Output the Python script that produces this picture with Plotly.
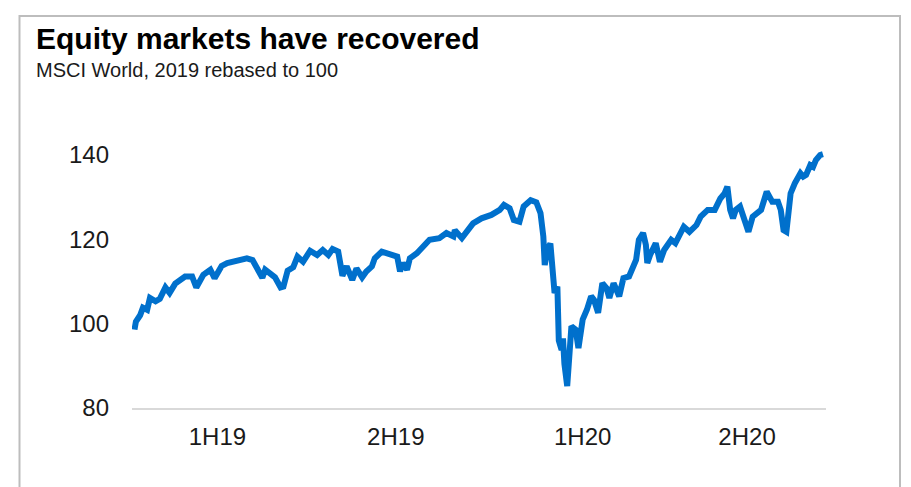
import plotly.graph_objects as go

# MSCI World index, 2019 rebased to 100, sampled by trading day
trading_day = [
    0, 1, 4, 6, 9, 11, 15, 18, 22, 25, 29, 32, 36, 41, 44, 49, 54, 57, 62, 66,
    70, 75, 80, 84, 87, 91, 93, 96, 100, 104, 106, 109, 113, 116, 120, 125, 130, 134, 138, 141,
    145, 148, 151, 155, 158, 162, 165, 169, 171, 176, 180, 187, 189, 191, 194, 196, 201, 205, 210, 217,
    222, 227, 228, 233, 237, 241, 247, 251, 254, 260, 263, 267, 270, 274, 277, 282, 286, 289, 291, 292,
    294, 296, 298, 299, 301, 302, 304, 305, 306, 308, 311, 314, 316, 319, 322, 325, 327, 330, 333, 336,
    338, 341, 345, 348, 352, 355, 357, 359, 362, 364, 365, 367, 371, 374, 377, 382, 385, 391, 395, 400,
    403, 408, 413, 417, 420, 422, 424, 426, 428, 431, 433, 437, 440, 444, 446, 450, 454, 458, 460, 462,
    464, 466, 467, 470, 474, 476, 478, 481, 483, 485, 488, 490,
]
msci_world = [
    98.6, 100.5, 102.0, 103.8, 103.3, 106.1, 105.3, 105.9, 108.6, 107.3, 109.5, 110.4, 111.2, 111.2, 108.6, 111.6, 112.8, 110.8, 113.7, 114.4,
    114.7, 115.1, 115.5, 115.1, 113.2, 110.9, 112.8, 112.0, 111.0, 108.6, 108.8, 112.6, 113.4, 115.9, 114.7, 117.3, 116.3, 117.5, 116.3, 117.7,
    117.1, 111.4, 113.6, 110.4, 113.1, 111.0, 112.4, 113.6, 115.5, 117.1, 116.7, 115.9, 112.4, 114.4, 112.8, 115.5, 116.7, 118.3, 119.9, 120.3,
    121.5, 120.7, 122.2, 120.3, 121.8, 123.8, 125.0, 125.4, 125.8, 127.0, 128.2, 127.4, 124.6, 124.2, 127.8, 129.3, 128.8, 126.2, 120.7, 113.9,
    117.8, 119.0, 112.8, 107.3, 108.8, 96.0, 93.8, 96.5, 90.5, 85.2, 99.4, 98.6, 94.2, 101.0, 103.3, 106.5, 105.7, 102.6, 109.6, 108.4,
    106.1, 109.6, 106.5, 110.8, 111.2, 114.0, 115.1, 119.9, 121.5, 118.7, 114.4, 116.3, 119.1, 114.7, 117.5, 119.9, 119.1, 123.0, 121.8, 123.4,
    125.4, 127.0, 127.0, 129.7, 130.9, 132.5, 127.0, 125.0, 127.0, 127.8, 125.4, 121.8, 125.4, 126.2, 127.0, 131.3, 128.9, 128.9, 127.0, 122.2,
    121.8, 127.8, 130.9, 133.3, 135.7, 134.9, 135.3, 137.6, 137.2, 138.8, 140.0, 140.2,
]

# Half-year labels along the x axis
half_year_pos = [59, 186, 319, 436]
half_year_labels = ["1H19", "2H19", "1H20", "2H20"]
y_ticks = [80, 100, 120, 140]

LINE_BLUE = "#0070CC"
TEXT = "#1a1a1a"
FONT = "Liberation Sans, Arial, Helvetica, sans-serif"

fig = go.Figure()
fig.add_trace(go.Scatter(
    x=trading_day,
    y=msci_world,
    mode="lines",
    line=dict(color=LINE_BLUE, width=6, shape="linear"),
    hoverinfo="skip",
    showlegend=False,
))

W, H = 911, 487
ML, MR, MT, MB = 132, 85, 134, 79
PW, PH = W - ML - MR, H - MT - MB


def px_x(p):
    return (p - ML) / PW


def px_y(p):
    return (H - MB - p) / PH


fig.update_layout(
    width=W,
    height=H,
    margin=dict(l=ML, r=MR, t=MT, b=MB, pad=0),
    paper_bgcolor="white",
    plot_bgcolor="white",
    font=dict(family=FONT, color=TEXT),
    xaxis=dict(
        range=[-1.78, 492.2],
        tickmode="array",
        tickvals=half_year_pos,
        ticktext=half_year_labels,
        tickfont=dict(size=24, color=TEXT),
        ticks="",
        ticklabelstandoff=6,
        showgrid=False,
        zeroline=False,
        showline=True,
        linecolor="#d9d9d9",
        linewidth=2,
        fixedrange=True,
    ),
    yaxis=dict(
        range=[80, 145],
        tickmode="array",
        tickvals=y_ticks,
        tickfont=dict(size=24, color=TEXT),
        ticks="",
        ticklabelstandoff=22,
        showgrid=False,
        zeroline=False,
        showline=False,
        fixedrange=True,
    ),
    shapes=[
        dict(
            type="rect", xref="paper", yref="paper",
            x0=px_x(19.5), x1=px_x(900), y0=px_y(500), y1=px_y(16),
            line=dict(color="#bdbdbd", width=2), fillcolor="rgba(0,0,0,0)",
            layer="below",
        )
    ],
    annotations=[
        dict(
            text="<b>Equity markets have recovered</b>",
            xref="paper", yref="paper", x=px_x(34), y=px_y(39),
            xanchor="left", yanchor="middle", showarrow=False,
            font=dict(size=30, color="#000000", family=FONT),
        ),
        dict(
            text="MSCI World, 2019 rebased to 100",
            xref="paper", yref="paper", x=px_x(34), y=px_y(70),
            xanchor="left", yanchor="middle", showarrow=False,
            font=dict(size=20, color=TEXT, family=FONT),
        ),
    ],
)

fig.write_html("out.html", config={"displayModeBar": False})
